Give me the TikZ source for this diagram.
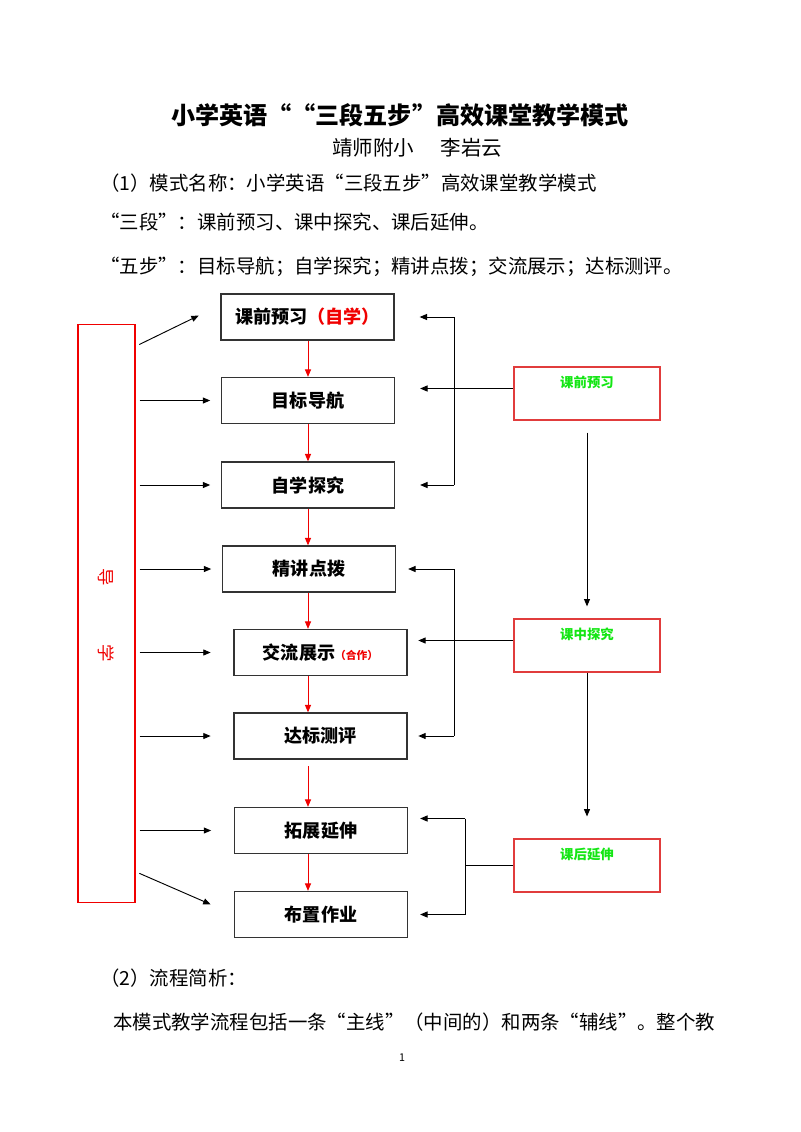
\documentclass[tikz,border=0pt]{standalone}
\usepackage{fontspec}
\newfontfamily\cjk{Noto Sans CJK SC}
\usetikzlibrary{calc}
\usetikzlibrary{arrows.meta}
\definecolor{zhuhong}{RGB}{240,0,0}
\definecolor{lvse}{RGB}{20,230,20}
\definecolor{kuanghong}{RGB}{225,60,60}
\tikzset{
    buzhou/.style={draw=black!80,line width=0.9pt,minimum width=4.54cm,minimum height=1.21cm,inner sep=0pt,font=\fontsize{13.5}{15}\selectfont\bfseries},
    duan/.style={draw=kuanghong,line width=0.9pt,minimum width=3.83cm,minimum height=1.39cm,inner sep=0pt},
    duanzi/.style={text=lvse,inner sep=0pt,font=\fontsize{10}{12}\selectfont\bfseries},
    hang/.style={anchor=west,inner sep=0pt,font=\fontsize{14.5}{16}\selectfont},
    jiantou/.style={->,line width=0.7pt},
    hongjian/.style={->,zhuhong,line width=0.7pt}
}
\begin{document}
\cjk
\begin{tikzpicture}[x=0.02625cm,y=-0.02625cm,>={Triangle[length=5.5pt,width=4.5pt]}]
                    \useasboundingbox (0,0) rectangle (800,1132);
                    \node[inner sep=0pt,font=\fontsize{18}{20}\selectfont\bfseries] (biaoti) at (400,115) {小学英语““三段五步”高效课堂教学模式};
                    \node[anchor=west,inner sep=0pt,font=\fontsize{15.3}{17}\selectfont] (zuozhe) at (332,148) {靖师附小\hspace{1.3em}李岩云};
                    \node[hang] (mingcheng) at (100,183) {（1）模式名称：小学英语“三段五步”高效课堂教学模式};
                    \node[hang] (sanduan) at (100,222) {“三段”：课前预习、课中探究、课后延伸。};
                    \node[hang] (wubu) at (100,267) {“五步”：目标导航；自学探究；精讲点拨；交流展示；达标测评。};
                    \node[buzhou] (box1) at (307.5,317) {课前预习{\color{zhuhong}（自学）}};
                    \node[buzhou] (box2) at (308,400.5) {目标导航};
                    \node[buzhou] (box3) at (308,485) {自学探究};
                    \node[buzhou] (box4) at (309,569) {精讲点拨};
                    \node[buzhou] (box5) at (320.5,652.5) {交流展示{\color{zhuhong}\fontsize{8}{10}\selectfont（合作）}};
                    \node[buzhou] (box6) at (320.5,736) {达标测评};
                    \node[buzhou] (box7) at (321,830.5) {拓展延伸};
                    \node[buzhou] (box8) at (321,914.5) {布置作业};
                    \node[draw=zhuhong,line width=0.9pt,minimum width=1.5cm,minimum height=15.15cm,inner sep=0pt] (daoxue) at (106.5,613.5) {};
                    \node[rotate=-90,text=zhuhong,font=\fontsize{13}{15}\selectfont] (dao) at (106,577) {导};
                    \node[rotate=-90,text=zhuhong,font=\fontsize{13}{15}\selectfont] (xue) at (106,653) {学};
                    \node[duan] (kqian) at (587,393.5) {};
                    \node[duan] (kzhong) at (587,645.5) {};
                    \node[duan] (khou) at (587,865.5) {};
                    \node[duanzi] (kqianzi) at ($(kqian.north)+(0,16)$) {课前预习};
                    \node[duanzi] (kzhongzi) at ($(kzhong.north)+(0,16)$) {课中探究};
                    \node[duanzi] (khouzi) at ($(khou.north)+(0,16)$) {课后延伸};
                    \coordinate (zhuxian) at (308,0);
                    \coordinate (you1) at (454,0);
                    \coordinate (you3) at (465,0);
                    \foreach \a/\b in {box1/box2,box2/box3,box3/box4,box4/box5,box5/box6,box7/box8}
                        \draw[hongjian] (zhuxian |- \a.south) -- (zhuxian |- \b.north);
                    \draw[hongjian,shorten <=5pt] (zhuxian |- box6.south) -- (zhuxian |- box7.north);
                    \draw[jiantou,shorten <=3pt,shorten >=18pt] ($(daoxue.north east)+(0,22)$) -- ($(box1.west)+(0,-12)$);
                    \foreach \b in {box2,box3,box4}
                        \draw[jiantou,shorten <=3pt,shorten >=8pt] (daoxue.east |- \b.west) -- (\b.west);
                    \foreach \b in {box5,box6,box7}
                        \draw[jiantou,shorten <=3pt,shorten >=17pt] (daoxue.east |- \b.west) -- (\b.west);
                    \draw[jiantou,shorten <=3pt,shorten >=19pt] ($(daoxue.south east)+(0,-31)$) -- (box8.west);
                    \draw[line width=0.7pt] (you1 |- box1.east) -- (you1 |- box3.east);
                    \draw[jiantou,shorten >=18.7pt] (you1 |- box1.east) -- (box1.east);
                    \draw[jiantou,shorten >=18.7pt] (you1 |- box3.east) -- (box3.east);
                    \draw[jiantou,shorten >=18.7pt] ($(kqian.west)+(0,-5)$) -- ($(kqian.west -| box2.east)+(0,-5)$);
                    \draw[line width=0.7pt] (you1 |- box4.east) -- (you1 |- box6.east);
                    \draw[jiantou,shorten >=9pt] (you1 |- box4.east) -- (box4.east);
                    \draw[jiantou,shorten >=8pt] (you1 |- box6.east) -- (box6.east);
                    \draw[jiantou,shorten >=8pt] ($(kzhong.west)+(0,-5)$) -- ($(kzhong.west -| box5.east)+(0,-5)$);
                    \draw[line width=0.7pt] ($(you3 |- box7.east)+(0,-12)$) -- (you3 |- box8.east);
                    \draw[jiantou,shorten >=9pt] ($(you3 |- box7.east)+(0,-12)$) -- ($(box7.east)+(0,-12)$);
                    \draw[jiantou,shorten >=9pt] (you3 |- box8.east) -- (box8.east);
                    \draw[line width=0.7pt] (khou.west) -- (you3 |- khou.west);
                    \draw[jiantou,shorten <=9pt,shorten >=9pt] (kqian.south) -- (kzhong.north);
                    \draw[jiantou,shorten >=16.4pt] (kzhong.south) -- (khou.north);
                    \node[hang] (jianxi) at (100,978) {（2）流程简析：};
                    \node[hang] (zhengwen) at (113,1022) {本模式教学流程包括一条“主线”（中间的）和两条“辅线”。整个教};
                    \node[inner sep=0pt,font=\fontsize{8}{10}\selectfont] (yema) at (402,1058) {1};
                \end{tikzpicture}
\end{document}
